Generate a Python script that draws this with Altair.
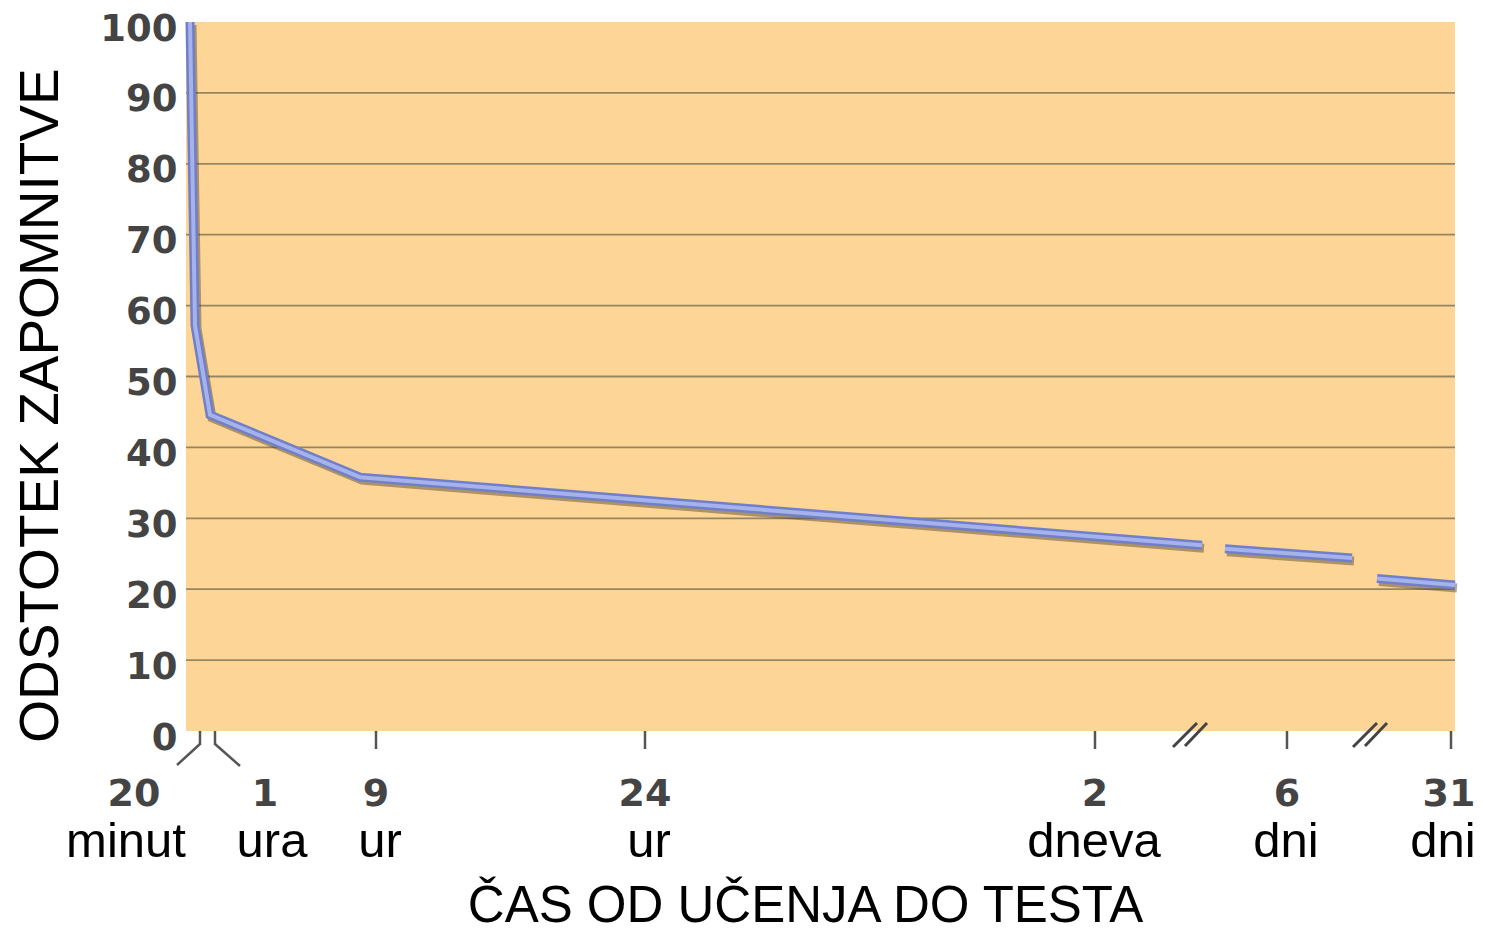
import altair as alt
import pandas as pd

# ---- data ----
# position along the (broken, non-linear) time axis and retention percent
seg_id = [1, 1, 1, 1, 1, 2, 2, 3, 3]
line_x = [4, 9, 24, 174, 1016, 1039, 1166, 1191, 1269]
line_y = [100, 57.2, 44.6, 35.8, 26.2, 25.7, 24.4, 21.5, 20.6]

tick_pos = [14, 29, 190, 459, 909, 1101, 1265]
tick_num = ["20", "1", "9", "24", "2", "6", "31"]
tick_word = ["minut", "ura", "ur", "ur", "dneva", "dni", "dni"]
break_pos = [1004, 1184]
y_values = [0, 10, 20, 30, 40, 50, 60, 70, 80, 90, 100]
grid_values = [10, 20, 30, 40, 50, 60, 70, 80, 90]

X_DOMAIN = [0, 1269]
W, H = 1269, 709

line_df = pd.DataFrame({"seg": seg_id, "x": line_x, "y": line_y})
tick_df = pd.DataFrame({"i": list(range(len(tick_pos))), "pos": tick_pos,
                        "num": tick_num, "word": tick_word})
break_df = pd.DataFrame({"pos": break_pos})
grid_df = pd.DataFrame({"g": grid_values})

xs = alt.Scale(domain=X_DOMAIN, nice=False, zero=False)
ys = alt.Scale(domain=[0, 100], nice=False)

x_axis = alt.Axis(
    values=tick_pos, labels=False, domain=False, grid=False, ticks=False,
    title="ČAS OD UČENJA DO TESTA", titleFont="Liberation Sans", titleFontSize=51,
    titleFontWeight="normal", titleColor="#000000", titleAlign="center",
    titleBaseline="alphabetic", titleX=619, titleY=190,
)
y_axis = alt.Axis(
    values=y_values, domain=False, ticks=False, grid=False,
    labelFont="DejaVu Sans", labelFontWeight="bold", labelFontSize=37, labelColor="#444444",
    labelPadding=9, labelBaseline="middle", labelOffset=7,
    title="ODSTOTEK ZAPOMNITVE", titleFont="Liberation Sans", titleFontSize=55,
    titleFontWeight="normal", titleColor="#000000", titleAngle=270, titleAlign="center",
    titleBaseline="middle", titleX=-146, titleY=383,
)


def X(field):
    return alt.X(field, scale=xs, axis=x_axis)


def Y(field):
    return alt.Y(field, scale=ys, axis=y_axis)


# horizontal grid lines (10..90)
grid = alt.Chart(grid_df).mark_rule(color="#958660", strokeWidth=1.8).encode(
    y=Y("g:Q"))

base_line = alt.Chart(line_df)

shadow = base_line.mark_line(color="#4e4026", opacity=0.45, strokeWidth=9, strokeCap="butt",
                             xOffset=2, yOffset=3).encode(
    x=X("x:Q"), y=Y("y:Q"), detail="seg:N")
outer = base_line.mark_line(color="#6f7fc8", strokeWidth=9, strokeCap="butt").encode(
    x=X("x:Q"), y=Y("y:Q"), detail="seg:N")
inner = base_line.mark_line(color="#a6b2ec", strokeWidth=4, strokeCap="butt").encode(
    x=X("x:Q"), y=Y("y:Q"), detail="seg:N")

tick_base = alt.Chart(tick_df)

# tick marks below the plot
ticks_short = tick_base.transform_filter("datum.i <= 1").mark_rule(
    color="#555555", strokeWidth=2.5).encode(
    x=X("pos:Q"), y=alt.value(H), y2=alt.value(H + 14))
ticks_long = tick_base.transform_filter("datum.i >= 2").mark_rule(
    color="#555555", strokeWidth=2.5).encode(
    x=X("pos:Q"), y=alt.value(H), y2=alt.value(H + 18))

# connectors under the first two ticks
diag_a = tick_base.transform_filter("datum.i == 0").mark_rule(
    color="#555555", strokeWidth=2.5, x2Offset=-23).encode(
    x=X("pos:Q"), x2="pos:Q", y=alt.value(H + 13), y2=alt.value(H + 34))
diag_b = tick_base.transform_filter("datum.i == 1").mark_rule(
    color="#555555", strokeWidth=2.5, x2Offset=25).encode(
    x=X("pos:Q"), x2="pos:Q", y=alt.value(H + 13), y2=alt.value(H + 35))

# axis break marks "//"
brk_base = alt.Chart(break_df)
brk1 = brk_base.mark_rule(color="#444444", strokeWidth=3, xOffset=-17, x2Offset=7).encode(
    x=X("pos:Q"), x2="pos:Q", y=alt.value(H + 16), y2=alt.value(H - 8))
brk2 = brk_base.mark_rule(color="#444444", strokeWidth=3, xOffset=-5, x2Offset=17).encode(
    x=X("pos:Q"), x2="pos:Q", y=alt.value(H + 15), y2=alt.value(H - 8))

num_style = dict(font="DejaVu Sans", fontWeight="bold", fontSize=38, color="#444444",
                 align="center", baseline="alphabetic")
word_style = dict(font="Liberation Sans", fontSize=49, color="#000000",
                  align="center", baseline="alphabetic")


def num_layer(flt, dx):
    return tick_base.transform_filter(flt).mark_text(dx=dx, **num_style).encode(
        x=X("pos:Q"), y=alt.value(H + 75), text="num:N")


def word_layer(flt, dx):
    return tick_base.transform_filter(flt).mark_text(dx=dx, **word_style).encode(
        x=X("pos:Q"), y=alt.value(H + 126), text="word:N")


nums = [num_layer("datum.i == 0", -66), num_layer("datum.i == 1", 50),
        num_layer("datum.i >= 2 && datum.i <= 5", 0), num_layer("datum.i == 6", -2)]
words = [word_layer("datum.i == 0", -74), word_layer("datum.i == 1", 57),
         word_layer("datum.i >= 2 && datum.i <= 3", 4),
         word_layer("datum.i >= 4 && datum.i <= 5", -1),
         word_layer("datum.i == 6", -8)]

chart = alt.layer(grid, shadow, outer, inner, ticks_short, ticks_long, diag_a, diag_b,
                  brk1, brk2, *nums, *words).properties(
    width=W, height=H,
    background="#ffffff",
    autosize=alt.AutoSizeParams(type="none"),
    padding={"left": 178, "top": 14, "right": 22, "bottom": 200},
).configure_view(fill="#fdd596", strokeWidth=0)

chart.save("out.html", embed_options={"renderer": "svg", "actions": False})
